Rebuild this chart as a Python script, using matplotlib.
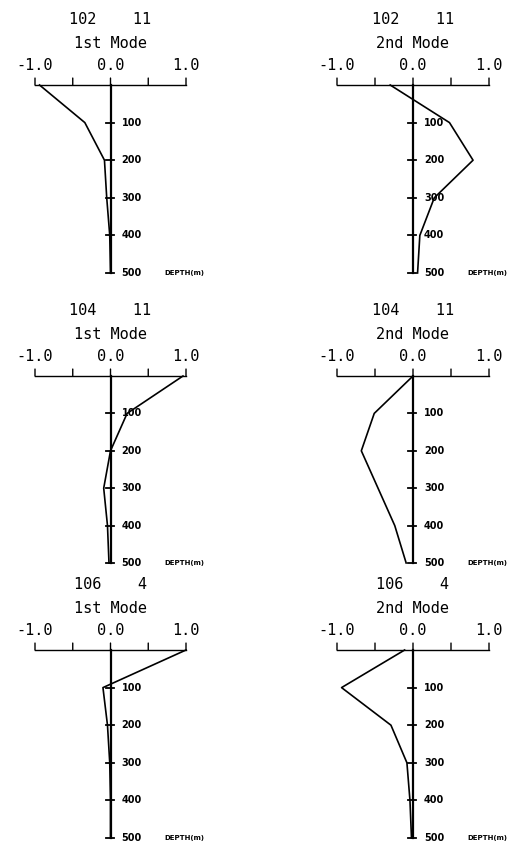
import numpy as np
import matplotlib.pyplot as plt
from matplotlib import font_manager

# depth levels (m) and mode amplitudes for each station
depth = [0, 100, 200, 300, 400, 500]

stations = ['102', '102', '104', '104', '106', '106']
months = ['11', '11', '11', '11', '4', '4']
modes = ['1st Mode', '2nd Mode', '1st Mode', '2nd Mode', '1st Mode', '2nd Mode']

amp_102_1 = [-0.94, -0.34, -0.08, -0.05, -0.01, 0.0]
amp_102_2 = [-0.30, 0.48, 0.79, 0.28, 0.09, 0.06]
amp_104_1 = [0.96, 0.22, 0.0, -0.09, -0.04, -0.02]
amp_104_2 = [0.0, -0.51, -0.68, -0.46, -0.24, -0.09]
amp_106_1 = [1.0, -0.10, -0.04, -0.01, 0.0, 0.0]
amp_106_2 = [-0.11, -0.94, -0.29, -0.08, -0.04, -0.02]

amps = [amp_102_1, amp_102_2, amp_104_1, amp_104_2, amp_106_1, amp_106_2]

xticks = [-1.0, -0.5, 0.0, 0.5, 1.0]
xlabels = ['-1.0', '0.0', '1.0']
yticks = [100, 200, 300, 400, 500]

W, H = 517, 844
fig = plt.figure(figsize=(W / 100, H / 100), dpi=100)

# axes boxes in pixels: left, right, top, bottom
cols = [(35, 186), (337, 489)]
rows = [(85, 273), (376, 563), (650, 838)]

mono = 'DejaVu Sans Mono'
names = {f.name for f in font_manager.fontManager.ttflist}
narrow = 'Liberation Sans Narrow' if 'Liberation Sans Narrow' in names else 'DejaVu Sans'
small = 6.5 if narrow != 'DejaVu Sans' else 5

for i in range(6):
    r, c = divmod(i, 2)
    x0, x1 = cols[c]
    y0, y1 = rows[r]
    ax = fig.add_axes([x0 / W, 1 - y1 / H, (x1 - x0) / W, (y1 - y0) / H])
    ax.set_xlim(-1, 1)
    ax.set_ylim(500, 0)
    ax.axis('off')

    # top amplitude axis
    ax.plot([-1, 1], [0, 0], color='black', lw=1.0, clip_on=False)
    for t in xticks:
        ax.annotate('', xy=(t, 0), xytext=(0, 5), textcoords='offset points',
                    arrowprops=dict(arrowstyle='-', color='black', lw=1.0,
                                    shrinkA=0, shrinkB=0))
    for t, lab in zip([-1.0, 0.0, 1.0], xlabels):
        ax.annotate(lab, xy=(t, 0), xytext=(0, 14), textcoords='offset points',
                    ha='center', va='center', fontsize=11, family=mono)

    # depth axis
    ax.plot([0, 0], [0, 500], color='black', lw=1.6, clip_on=False)
    for d in yticks:
        ax.plot([-0.06, 0.04], [d, d], color='black', lw=1.3, clip_on=False)
        ax.annotate(str(d), xy=(0, d), xytext=(8, 0), textcoords='offset points',
                    ha='left', va='center', fontsize=7, fontweight='bold')
    ax.annotate('DEPTH(m)', xy=(0, 500), xytext=(39, 0), textcoords='offset points',
                ha='left', va='center', fontsize=small, fontweight='bold',
                family=narrow)

    # mode profile
    ax.plot(amps[i], depth, color='black', lw=1.2, clip_on=False)

    # headings
    ax.annotate(stations[i] + '    ' + months[i], xy=(0, 0), xytext=(0, 47),
                textcoords='offset points', ha='center', va='center',
                fontsize=11, family=mono)
    ax.annotate(modes[i], xy=(0, 0), xytext=(0, 30), textcoords='offset points',
                ha='center', va='center', fontsize=11, family=mono)

fig.savefig('out.png', dpi=100, facecolor='white')
